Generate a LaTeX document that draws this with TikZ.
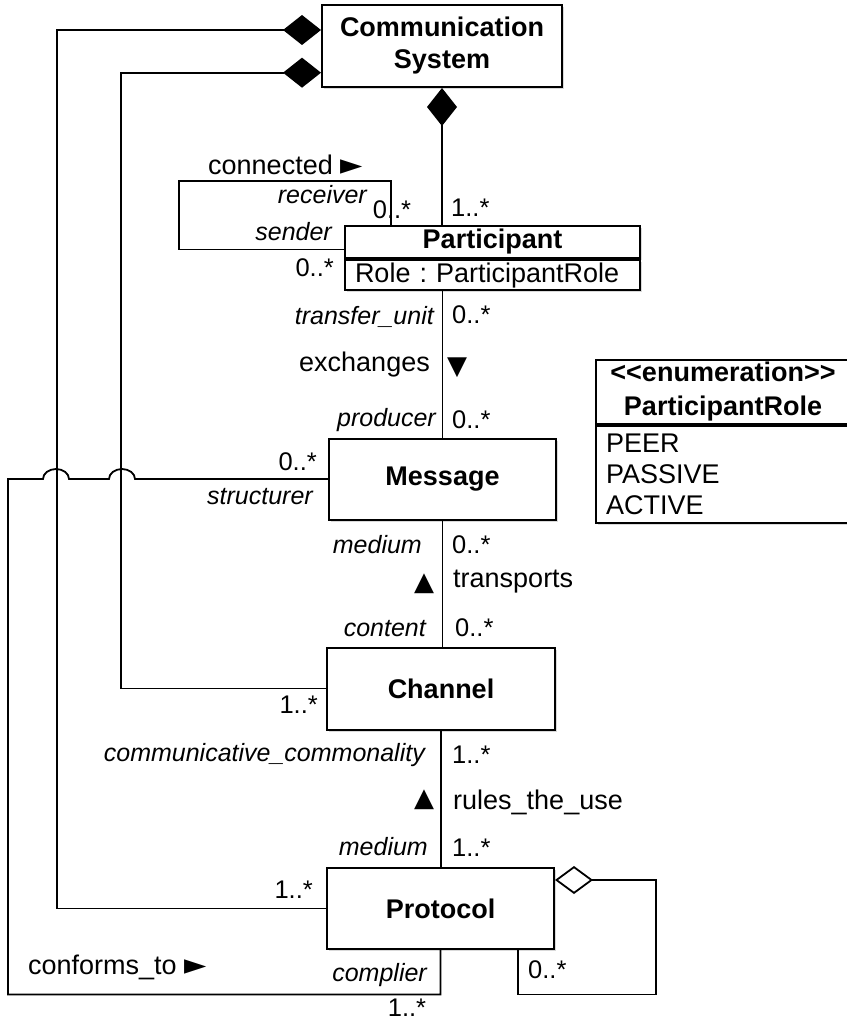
\documentclass[tikz,border=0pt]{standalone}
\usepackage{fontspec}
\setmainfont{Liberation Sans}
\newfontfamily\symfont{DejaVu Sans}
\usepackage{tikz}
\usetikzlibrary{calc,arrows.meta,shadows}
\tikzset{
  cls/.style={draw, line width=2pt, fill=white, align=center, inner sep=0pt,
    font=\bfseries\fontsize{27}{32}\selectfont,
    drop shadow={shadow xshift=2pt, shadow yshift=-2pt, opacity=0.3}},
  attr/.style={cls, font=\fontsize{27}{31}\selectfont, align=left},
  link/.style={line width=1.8pt, line join=miter},
  comp/.style={link, {Diamond[length=38pt,width=30pt]}-},
  aggr/.style={link, {Diamond[open,length=38pt,width=28pt,fill=white]}-},
  role/.style={font=\itshape\fontsize{25}{30}\selectfont, inner sep=0pt},
  mult/.style={font=\fontsize{25.5}{30}\selectfont, inner sep=0pt},
  lab/.style={font=\fontsize{27}{32}\selectfont, inner sep=0pt},
  tri/.style={font=\symfont\fontsize{26}{30}\selectfont, inner sep=0pt},
}
\newcommand\rightri{{\symfont\fontsize{29}{32}\selectfont ►}}

\begin{document}
\frenchspacing
\begin{tikzpicture}[x=1pt, y=-1pt]
  \useasboundingbox (0,0) rectangle (846,1022);

  % classes
  \node[cls, minimum width=240, minimum height=82] (comsys) at (442,46) {Communication\\System};
  \node[cls, minimum width=295, minimum height=32.5] (part) at (492.5,242) {Participant};
  \node[attr, minimum width=295, minimum height=30, text width=275, anchor=north] (partrole) at (part.south) {Role : ParticipantRole};
  \node[cls, minimum width=227, minimum height=81] (msg) at (442.5,479) {Message};
  \node[cls, minimum width=228, minimum height=82] (chan) at (441,688.5) {Channel};
  \node[cls, minimum width=227, minimum height=81] (proto) at (440.5,908.5) {Protocol};
  \node[cls, minimum width=254, minimum height=64, font=\bfseries\fontsize{27}{34}\selectfont] (enumhead) at (723,392)
    {<\kern0pt<enumeration>\kern0pt>\\ParticipantRole};
  \node[attr, minimum width=254, minimum height=97, text width=234, anchor=north] (enumvals) at (enumhead.south)
    {PEER\\PASSIVE\\ACTIVE};

  % composition of the system
  \coordinate (cs1) at ($(comsys.west)+(0,-16)$);
  \coordinate (cs2) at ($(comsys.west)+(0,26.7)$);
  \draw[comp] (comsys.south) -- (comsys.south |- part.north);
  \draw[comp] (cs1) -- ++(-264,0) |- (proto.west);
  \draw[comp] (cs2) -- ++(-200,0) |- (chan.west);

  % associations along the spine
  \draw[link] (msg.north |- partrole.south) -- (msg.north);
  \draw[link] (msg.south) -- (msg.south |- chan.north);
  \draw[link] (chan.south) -- (chan.south |- proto.north);

  % connected (self association)
  \coordinate (pl) at ($(part.west)+(0,7.5)$);
  \draw[link] (pl) -| ($(part.north west)+(-165,-44)$) -| ($(part.north west)+(47,0)$);

  % conforms_to, jumping over the two composition lines
  \draw[link] (proto.south) -- ++(0,44.5) -| (8,479) -- (43,479)
    arc (180:360:13 and 10) -- (109,479) arc (180:360:13 and 10) -- (msg.west);

  % protocol aggregation
  \coordinate (pa) at ($(proto.north east)+(0,13)$);
  \draw[aggr] (pa) -| ($(proto.south east)+(101,44.5)$) -- ++(-138,0) -- ($(proto.south east)+(-37,0)$);

  % labels: participant
  \node[lab, anchor=west] (lconn) at (208,165) {connected \rightri};
  \node[role, anchor=east] (lrecv) at (367,195) {receiver};
  \node[mult] (mrecv) at (392,210) {0..*};
  \node[mult, anchor=west] (msys) at (451,208) {1..*};
  \node[role, anchor=east] (lsend) at (332,232) {sender};
  \node[mult, anchor=east] (msend) at (334,268) {0..*};

  % labels: exchanges
  \node[role, anchor=east] (ltu) at (434,317) {transfer\_unit};
  \node[mult, anchor=west] (mtu) at (452,315) {0..*};
  \node[lab, anchor=east] (lexch) at (430,365) {exchanges};
  \node[tri] (texch) at (457,368) {▼};
  \node[role, anchor=east] (lprod) at (436,420) {producer};
  \node[mult, anchor=west] (mprod) at (452,420) {0..*};

  % labels: structurer
  \node[mult, anchor=east] (mstruct) at (317,462) {0..*};
  \node[role, anchor=east] (lstruct) at (313,497) {structurer};

  % labels: transports
  \node[role, anchor=east] (lmed) at (422,545) {medium};
  \node[mult, anchor=west] (mmed) at (452,545) {0..*};
  \node[tri] (ttrans) at (424,584) {▲};
  \node[lab, anchor=west] (ltrans) at (453,582) {transports};
  \node[role, anchor=east] (lcont) at (426,629) {content};
  \node[mult, anchor=west] (mcont) at (455,628) {0..*};
  \node[mult, anchor=east] (mchan) at (318,705) {1..*};

  % labels: rules_the_use
  \node[role, anchor=east] (lcomm) at (425,755) {communicative\_commonality};
  \node[mult, anchor=west] (mcomm) at (452,755) {1..*};
  \node[tri] (trules) at (424,800) {▲};
  \node[lab, anchor=west] (lrules) at (453,802) {rules\_the\_use};
  \node[role, anchor=east] (lmed2) at (428,847) {medium};
  \node[mult, anchor=west] (mmed2) at (452,848) {1..*};
  \node[mult, anchor=east] (mproto) at (313,890) {1..*};

  % labels: conforms_to
  \node[lab, anchor=west] (lconf) at (28,967) {conforms\_to \rightri};
  \node[role, anchor=east] (lcompl) at (427,975) {complier};
  \node[mult] (mcompl) at (407,1008) {1..*};
  \node[mult, anchor=west] (magg) at (528,970) {0..*};
\end{tikzpicture}
\end{document}
